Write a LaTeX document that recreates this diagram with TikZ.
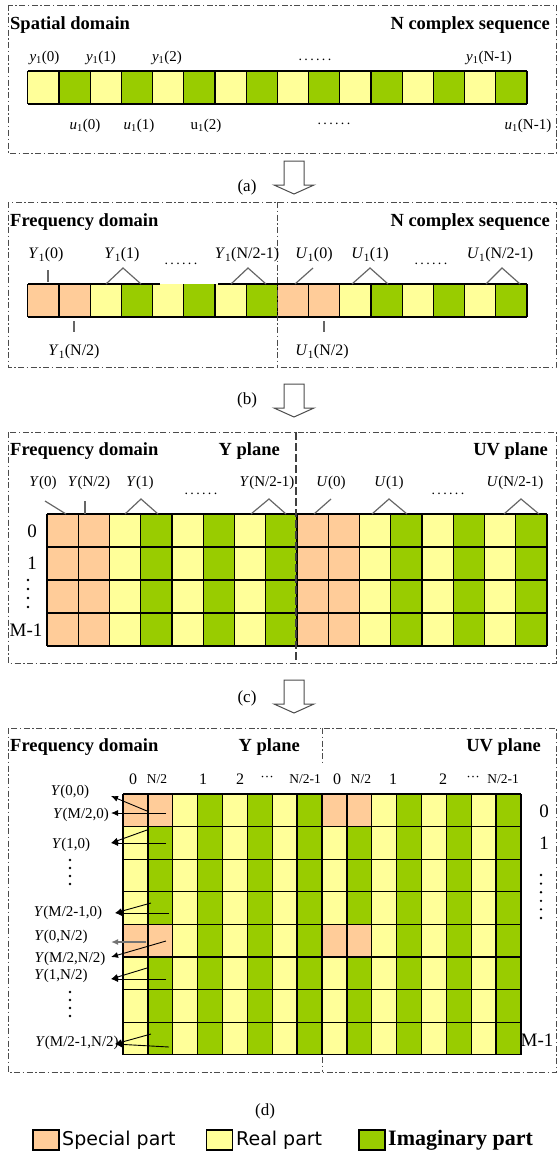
\documentclass[tikz,border=0pt]{standalone}
\usepackage{fontspec}
\setmainfont{Liberation Serif}
\newfontfamily\legfont{DejaVu Sans}
\usetikzlibrary{arrows.meta}
\definecolor{spcol}{HTML}{FFCC99}
\definecolor{rlcol}{HTML}{FFFF99}
\definecolor{imcol}{HTML}{99CC00}
\newcommand{\fsz}[1]{\fontsize{#1pt}{#1pt}\selectfont}
\newcommand{\onesub}[2]{\textit{#1}\textsubscript{1}(#2)}
\tikzset{
  panel/.style={draw=black!70, line width=0.9pt, dash pattern=on 6pt off 2.5pt on 1.5pt off 2.5pt},
  cell/.style={line width=1.3pt},
  wedge/.style={black!60, line width=1.2pt},
  ttl/.style={font=\fsz{18.5}\bfseries, inner sep=0pt},
  lbl/.style={font=\fsz{15}, inner sep=0pt},
  rowlbl/.style={font=\fsz{19}, inner sep=0pt},
  smlbl/.style={font=\fsz{13.5}, inner sep=0pt},
  dotlbl/.style={font=\fsz{14}, inner sep=0pt},
  ptr/.style={-{Latex[length=7pt,width=6pt]}, line width=0.9pt},
  blockarr/.style={draw=black!70, line width=1pt, fill=white},
  vdot/.style={circle, fill, inner sep=0pt, minimum size=2.6pt},
  legbox/.style={draw, line width=1.2pt, minimum width=26pt, minimum height=20pt, inner sep=0pt}
}
\begin{document}
\begin{tikzpicture}[x=1pt,y=-1pt]
\useasboundingbox (0,0) rectangle (558,1153);
% (a) spatial domain
\draw[panel] (8,5) rectangle (556,153);
\node[ttl, anchor=west] (tla) at (10,25) {Spatial domain};
\node[ttl, anchor=east] (tra) at (550,25) {N complex sequence};
\foreach \i in {0,2,...,14} \fill[rlcol] ({27.8+31.2*\i},71) rectangle ++(31.2,33);
\foreach \i in {1,3,...,15} \fill[imcol] ({27.8+31.2*\i},71) rectangle ++(31.2,33);
\foreach \i in {0,...,16} \draw[cell] ({27.8+31.2*\i},71) -- ++(0,33);
\draw[cell] (27.8,71) -- (527,71) (27.8,104) -- (527,104);
\node[lbl] (ya0) at (44.5,58) {\onesub{y}{0}};
\node[lbl] (ya1) at (101,58) {\onesub{y}{1}};
\node[lbl] (ya2) at (167,58) {\onesub{y}{2}};
\node[dotlbl] (da0) at (315,60) {.\,.\,.\,.\,.\,.};
\node[lbl] (ya3) at (489,58) {\onesub{y}{N-1}};
\node[lbl] (ua0) at (85,126) {\onesub{u}{0}};
\node[lbl] (ua1) at (139,126) {\onesub{u}{1}};
\node[lbl] (ua2) at (206,126) {u\textsubscript{1}(2)};
\node[dotlbl] (da1) at (334,124) {.\,.\,.\,.\,.\,.};
\node[lbl] (ua3) at (528,126) {\onesub{u}{N-1}};
\node[lbl, font=\fsz{17}] (pa) at (247,187) {(a)};
% (b) frequency domain
\draw[panel] (8,202) rectangle (556,367);
\node[ttl, anchor=west] (tlb) at (10,222) {Frequency domain};
\node[ttl, anchor=east] (trb) at (550,222) {N complex sequence};
\foreach \i in {0,1,8,9} \fill[spcol] ({27.8+31.2*\i},284) rectangle ++(31.2,33);
\foreach \i in {2,4,6,10,12,14} \fill[rlcol] ({27.8+31.2*\i},284) rectangle ++(31.2,33);
\foreach \i in {3,5,7,11,13,15} \fill[imcol] ({27.8+31.2*\i},284) rectangle ++(31.2,33);
\foreach \i in {0,...,16} \draw[cell] ({27.8+31.2*\i},284) -- ++(0,33);
\draw[cell] (160,284) -- (27.8,284) (218,284) -- (527,284) (27.8,317) -- (527,317);
\draw[panel] (277.5,202) -- (277.5,367);
\node[lbl, font=\fsz{16}] (yb0) at (46,255) {\onesub{Y}{0}};
\node[lbl, font=\fsz{16}] (yb1) at (122,255) {\onesub{Y}{1}};
\node[dotlbl] (db0) at (181,264) {.\,.\,.\,.\,.\,.};
\node[lbl, font=\fsz{16}] (yb2) at (247,255) {\onesub{Y}{N/2-1}};
\node[lbl, font=\fsz{16}] (ub0) at (314,255) {\onesub{U}{0}};
\node[lbl, font=\fsz{16}] (ub1) at (370,255) {\onesub{U}{1}};
\node[dotlbl] (db1) at (431,264) {.\,.\,.\,.\,.\,.};
\node[lbl, font=\fsz{16}] (ub2) at (500,255) {\onesub{U}{N/2-1}};
\node[lbl, font=\fsz{16}] (yb3) at (74,352) {\onesub{Y}{N/2}};
\node[lbl, font=\fsz{16}] (ub3) at (322,352) {\onesub{U}{N/2}};
\coordinate (kb0) at (48,270); \coordinate (kb1) at (48,282);
\coordinate (fb1) at (106,284); \coordinate (hb1) at (123,268); \coordinate (gb1) at (141,284);
\coordinate (fb2) at (231,284); \coordinate (hb2) at (248,268); \coordinate (gb2) at (266,284);
\coordinate (fb3) at (295,284); \coordinate (hb3) at (313,268);
\coordinate (fb4) at (352,284); \coordinate (hb4) at (370,268); \coordinate (gb4) at (388,284);
\coordinate (fb5) at (486,284); \coordinate (hb5) at (502,268); \coordinate (gb5) at (520,284);
\coordinate (kb2) at (74,321); \coordinate (kb3) at (74,332);
\coordinate (kb4) at (324,321); \coordinate (kb5) at (324,332);
\draw[wedge] (kb0) -- (kb1);
\draw[wedge] (fb1) -- (hb1) -- (gb1);
\draw[wedge] (fb2) -- (hb2) -- (gb2);
\draw[wedge] (fb3) -- (hb3);
\draw[wedge] (fb4) -- (hb4) -- (gb4);
\draw[wedge] (fb5) -- (hb5) -- (gb5);
\draw[wedge] (kb2) -- (kb3);
\draw[wedge] (kb4) -- (kb5);
\node[lbl, font=\fsz{17}] (pb) at (247,400) {(b)};
% (c) Y and UV planes
\draw[panel] (8,432) rectangle (556,663);
\node[ttl, anchor=west] (tlc) at (10,451) {Frequency domain};
\node[ttl, anchor=east] (tmc) at (280,451) {Y plane};
\node[ttl, anchor=east] (trc) at (548,451) {UV plane};
\foreach \i in {0,1,8,9} \fill[spcol] ({47+31.25*\i},514) rectangle ++(31.25,132);
\foreach \i in {2,4,6,10,12,14} \fill[rlcol] ({47+31.25*\i},514) rectangle ++(31.25,132);
\foreach \i in {3,5,7,11,13,15} \fill[imcol] ({47+31.25*\i},514) rectangle ++(31.25,132);
\foreach \i in {0,...,16} \draw[cell] ({47+31.25*\i},514) -- ++(0,132);
\foreach \j in {0,...,4} \draw[cell] (47,{514+33*\j}) -- ++(500,0);
\draw[black!75, line width=2pt, dash pattern=on 8pt off 3pt] (296,432) -- (296,663);
\node[lbl] (yc0) at (43,483) {\textit{Y}(0)};
\node[lbl] (yc1) at (89,483) {\textit{Y}(N/2)};
\node[lbl] (yc2) at (140,483) {\textit{Y}(1)};
\node[dotlbl] (dc0) at (201,494) {.\,.\,.\,.\,.\,.};
\node[lbl] (yc3) at (267,483) {\textit{Y}(N/2-1)};
\node[lbl] (uc0) at (331,483) {\textit{U}(0)};
\node[lbl] (uc1) at (389,483) {\textit{U}(1)};
\node[dotlbl] (dc1) at (448,494) {.\,.\,.\,.\,.\,.};
\node[lbl] (uc2) at (515,483) {\textit{U}(N/2-1)};
\coordinate (hc0) at (45,501); \coordinate (fc0) at (66,514);
\coordinate (hc1) at (85,501); \coordinate (fc1) at (85,514);
\coordinate (fc2) at (125,514); \coordinate (hc2) at (141,499); \coordinate (gc2) at (158,514);
\coordinate (fc3) at (251,514); \coordinate (hc3) at (269,499); \coordinate (gc3) at (286,514);
\coordinate (fc4) at (314,514); \coordinate (hc4) at (331,499);
\coordinate (fc5) at (372,514); \coordinate (hc5) at (389,499); \coordinate (gc5) at (407,514);
\coordinate (fc6) at (504,514); \coordinate (hc6) at (521,499); \coordinate (gc6) at (539,514);
\draw[wedge] (hc0) -- (fc0);
\draw[wedge] (hc1) -- (fc1);
\draw[wedge] (fc2) -- (hc2) -- (gc2);
\draw[wedge] (fc3) -- (hc3) -- (gc3);
\draw[wedge] (fc4) -- (hc4);
\draw[wedge] (fc5) -- (hc5) -- (gc5);
\draw[wedge] (fc6) -- (hc6) -- (gc6);
\node[rowlbl] (rc0) at (32,531) {0};
\node[rowlbl] (rc1) at (32,563) {1};
\foreach \y in {580,589,598,607} \node[vdot] (vc\y) at (28,\y) {};
\node[rowlbl] (rc2) at (26,630) {M-1};
\node[lbl, font=\fsz{17}] (pc) at (247,698) {(c)};
% (d) Y and UV planes, packed
\draw[panel] (8,728) rectangle (556,1072);
\draw[panel] (322,728) -- (322,762) (322,1057) -- (322,1072);
\node[ttl, anchor=west] (tld) at (10,747) {Frequency domain};
\node[ttl, anchor=east] (tmd) at (300,747) {Y plane};
\node[ttl, anchor=east] (trd) at (541,747) {UV plane};
\foreach \i in {0,2,...,14} \fill[rlcol] ({123+24.875*\i},794) rectangle ++(24.875,260.8);
\foreach \i in {1,3,...,15} \fill[imcol] ({123+24.875*\i},794) rectangle ++(24.875,260.8);
\foreach \i in {0,1,8,9} \foreach \j in {0,4} \fill[spcol] ({123+24.875*\i},{794+32.6*\j}) rectangle ++(24.875,32.6);
\foreach \i in {0,...,16} \draw[cell] ({123+24.875*\i},794) -- ++(0,260.8);
\foreach \j in {0,...,8} \draw[cell] (123,{794+32.6*\j}) -- ++(398,0);
\node[lbl, font=\fsz{16}] (cd0) at (133,779) {0};
\node[smlbl] (cd1) at (157,779) {N/2};
\node[lbl, font=\fsz{16}] (cd2) at (203,779) {1};
\node[lbl, font=\fsz{16}] (cd3) at (240,779) {2};
\node[smlbl] (cd4) at (267,779) {···};
\node[smlbl] (cd5) at (305,779) {N/2-1};
\node[lbl, font=\fsz{16}] (cd6) at (337,779) {0};
\node[smlbl] (cd7) at (361,779) {N/2};
\node[lbl, font=\fsz{16}] (cd8) at (393,779) {1};
\node[lbl, font=\fsz{16}] (cd9) at (443,779) {2};
\node[smlbl] (cd10) at (473,779) {···};
\node[smlbl] (cd11) at (503,779) {N/2-1};
\node[rowlbl] (rd0) at (544,811) {0};
\node[rowlbl] (rd1) at (544,843) {1};
\foreach \y in {875,883.6,892.2,900.8,909.4,918} \node[vdot] (vd\y) at (541,\y) {};
\node[rowlbl] (rd2) at (537,1040) {M-1};
\node[lbl] (yd1) at (70,792) {\textit{Y}(0,0)};
\node[lbl] (yd2) at (81,815) {\textit{Y}(M/2,0)};
\node[lbl] (yd3) at (71,845) {\textit{Y}(1,0)};
\foreach \y in {860,868,876,884} \node[vdot] (va\y) at (70,\y) {};
\node[lbl] (yd4) at (68,913) {\textit{Y}(M/2-1,0)};
\node[lbl] (yd5) at (61,937) {\textit{Y}(0,N/2)};
\node[lbl] (yd6) at (70,959) {\textit{Y}(M/2,N/2)};
\node[lbl] (yd7) at (61,976) {\textit{Y}(1,N/2)};
\foreach \y in {992,1000,1008,1016} \node[vdot] (vb\y) at (70,\y) {};
\node[lbl] (yd8) at (77,1043) {\textit{Y}(M/2-1,N/2)};
\coordinate (s1) at (147,811); \coordinate (t1) at (111,796);
\coordinate (s2) at (166,813); \coordinate (t2) at (111,813);
\coordinate (s3) at (147,830); \coordinate (r3) at (166,843); \coordinate (t3) at (111,843);
\coordinate (s4) at (151,903); \coordinate (r4) at (169,913); \coordinate (t4) at (115,913);
\coordinate (s5) at (146,942); \coordinate (t5) at (111,942);
\coordinate (s6) at (166,941); \coordinate (t6) at (111,957);
\coordinate (s7) at (147,968); \coordinate (r7) at (166,979); \coordinate (t7) at (111,979);
\coordinate (s8) at (151,1034); \coordinate (r8) at (169,1047); \coordinate (t8) at (115,1044);
\draw[ptr] (s1) -- (t1);
\draw[ptr] (s2) -- (t2);
\draw[ptr] (s3) -- (t3);
\draw[ptr] (r3) -- (t3);
\draw[ptr] (s4) -- (t4);
\draw[ptr] (r4) -- (t4);
\draw[ptr, black!55, line width=1.6pt] (s5) -- (t5);
\draw[ptr] (s6) -- (t6);
\draw[ptr] (s7) -- (t7);
\draw[ptr] (r7) -- (t7);
\draw[ptr] (s8) -- (t8);
\draw[ptr] (r8) -- (t8);
\node[lbl, font=\fsz{17}] (pd) at (265,1111) {(d)};
% arrows between the panels
\foreach \t in {161,384,680} \draw[blockarr] (284,\t) -- ++(20,0) -- ++(0,24) -- ++(10,0) -- ++(-20,9) -- ++(-20,-9) -- ++(10,0) -- cycle;
% legend
\node[legbox, fill=spcol] (lgs) at (46,1140) {};
\node[anchor=west, font=\legfont\fsz{19}, inner sep=0pt] (lgst) at (62,1140) {Special part};
\node[legbox, fill=rlcol] (lgr) at (219.5,1140) {};
\node[anchor=west, font=\legfont\fsz{19}, inner sep=0pt] (lgrt) at (236,1140) {Real part};
\node[legbox, fill=imcol] (lgi) at (372,1140) {};
\node[anchor=west, font=\fsz{22}\bfseries, inner sep=0pt] (lgit) at (388,1140) {Imaginary part};
\end{tikzpicture}
\end{document}
